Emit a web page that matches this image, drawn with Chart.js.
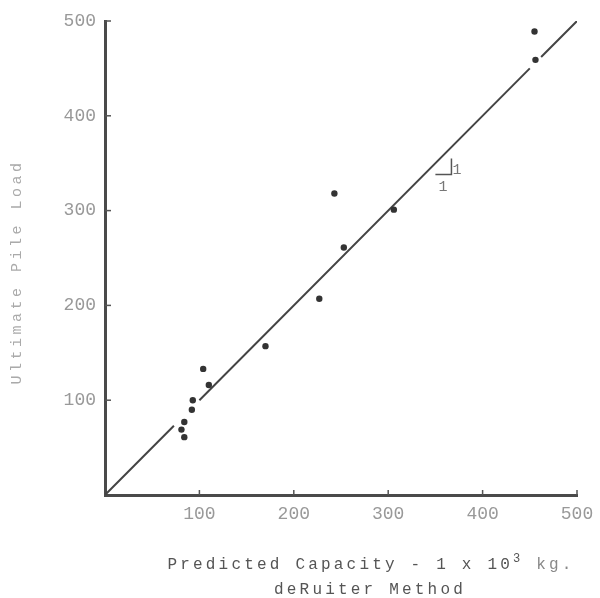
<!DOCTYPE html>
<html>
<head>
<meta charset="utf-8">
<script src="https://cdn.jsdelivr.net/npm/chart.js@4.4.0/dist/chart.umd.min.js"></script>
<style>
  html, body { margin: 0; padding: 0; background: #fff; }
  #wrap { width: 600px; height: 598px; }
</style>
</head>
<body>
<div id="wrap"><canvas id="grafico"></canvas></div>
<script>
// valores (x = capacidade prevista, y = carga última)
const capacidadePrevista = [104, 110, 93, 92, 84, 81, 84, 170, 227, 243, 253, 306, 455, 456];
const cargaUltima        = [133, 116, 100, 90, 77, 69, 61, 157, 207, 318, 261, 301, 489, 459];

// linha 1:1, com as duas interrupções perto dos pontos
const linhaX = [0, 73, 86, 100, 450, 456, 462, 500];
const linhaY = [0, 73, null, 100, 450, null, 462, 500];

// triângulo de inclinação 1/1
const trianguloX = [350, 367, 367];
const trianguloY = [338, 338, 355];

const ticksEixo = [100, 200, 300, 400, 500];
const tituloY = 'Ultimate Pile Load';
const tituloX1 = 'Predicted Capacity - 1 x 10';
const tituloXExp = '3';
const tituloXFim = ' kg.';
const tituloX2 = 'deRuiter Method';

const fonteMono = '"Liberation Mono", "DejaVu Sans Mono", monospace';

const zip = (xs, ys) => xs.map((v, i) => ({ x: v, y: ys[i] }));

// ===== marcas, rótulos do triângulo e títulos =====
const desenhoExtra = {
  id: 'desenhoExtra',
  afterDraw(chart) {
    const { ctx, chartArea } = chart;
    const x = chart.scales.x, y = chart.scales.y;
    ctx.save();

    // marcas dos eixos viradas para dentro
    ctx.strokeStyle = '#555';
    ctx.lineWidth = 1.5;
    ticksEixo.forEach(v => {
      const px = x.getPixelForValue(v);
      ctx.beginPath(); ctx.moveTo(px, chartArea.bottom); ctx.lineTo(px, chartArea.bottom - 5); ctx.stroke();
      const py = y.getPixelForValue(v);
      ctx.beginPath(); ctx.moveTo(chartArea.left, py); ctx.lineTo(chartArea.left + 6, py); ctx.stroke();
    });

    // "1" e "1" do triângulo
    ctx.fillStyle = '#777';
    ctx.font = '15px ' + fonteMono;
    ctx.textAlign = 'center';
    ctx.textBaseline = 'middle';
    ctx.fillText('1', x.getPixelForValue(373), y.getPixelForValue(343));
    ctx.fillText('1', x.getPixelForValue(358), y.getPixelForValue(325));

    // título do eixo x, com expoente
    ctx.letterSpacing = '3.2px';
    ctx.font = '16px ' + fonteMono;
    const w1 = ctx.measureText(tituloX1).width;
    const wFim = ctx.measureText(tituloXFim).width;
    ctx.font = '12px ' + fonteMono;
    const wExp = ctx.measureText(tituloXExp).width;
    let cx = 371 - (w1 + wExp + wFim) / 2;
    ctx.textAlign = 'left';
    ctx.fillStyle = '#555';
    ctx.font = '16px ' + fonteMono;
    ctx.fillText(tituloX1, cx, 565);
    cx += w1;
    ctx.font = '12px ' + fonteMono;
    ctx.fillText(tituloXExp, cx, 559);
    cx += wExp;
    ctx.fillStyle = '#888';
    ctx.font = '16px ' + fonteMono;
    ctx.fillText(tituloXFim, cx, 565);

    ctx.fillStyle = '#555';
    ctx.textAlign = 'center';
    ctx.fillText(tituloX2, 370, 590);

    // título do eixo y
    ctx.translate(17, 272);
    ctx.rotate(-Math.PI / 2);
    ctx.letterSpacing = '3.5px';
    ctx.font = '15px ' + fonteMono;
    ctx.fillStyle = '#aaa';
    ctx.fillText(tituloY, 0, 0);

    ctx.restore();
  }
};

new Chart(document.getElementById('grafico'), {
  type: 'scatter',
  data: {
    datasets: [
      {
        label: 'Ensaios',
        data: zip(capacidadePrevista, cargaUltima),
        pointRadius: 3.2,
        pointHoverRadius: 3.2,
        backgroundColor: '#333',
        borderWidth: 0
      },
      {
        label: '1:1',
        data: zip(linhaX, linhaY),
        showLine: true,
        spanGaps: false,
        borderColor: '#444',
        borderWidth: 2,
        pointRadius: 0,
        fill: false
      },
      {
        label: 'inclinação',
        data: zip(trianguloX, trianguloY),
        showLine: true,
        borderColor: '#555',
        borderWidth: 1.5,
        pointRadius: 0,
        fill: false
      }
    ]
  },
  options: {
    responsive: true,
    maintainAspectRatio: false,
    animation: false,
    layout: { padding: { top: 21, right: 23, left: 0, bottom: 0 } },
    plugins: { legend: { display: false }, tooltip: { enabled: false } },
    scales: {
      x: {
        type: 'linear',
        min: 0, max: 500,
        afterFit: s => { s.height = 103; s.paddingLeft = 0; s.paddingRight = 0; },
        afterBuildTicks: s => { s.ticks = [0].concat(ticksEixo).map(v => ({ value: v })); },
        grid: { display: false },
        border: { display: true, color: '#4a4a4a', width: 3 },
        ticks: {
          padding: 0,
          color: '#999',
          font: { family: fonteMono, size: 18 },
          callback: v => v === 0 ? '' : v
        }
      },
      y: {
        type: 'linear',
        min: 0, max: 500,
        afterFit: s => { s.width = 105; s.paddingTop = 0; s.paddingBottom = 0; },
        afterBuildTicks: s => { s.ticks = [0].concat(ticksEixo).map(v => ({ value: v })); },
        grid: { display: false },
        border: { display: true, color: '#4a4a4a', width: 3 },
        ticks: {
          padding: 1,
          color: '#999',
          font: { family: fonteMono, size: 18 },
          callback: v => v === 0 ? '' : v
        }
      }
    }
  },
  plugins: [desenhoExtra]
});
</script>
</body>
</html>
